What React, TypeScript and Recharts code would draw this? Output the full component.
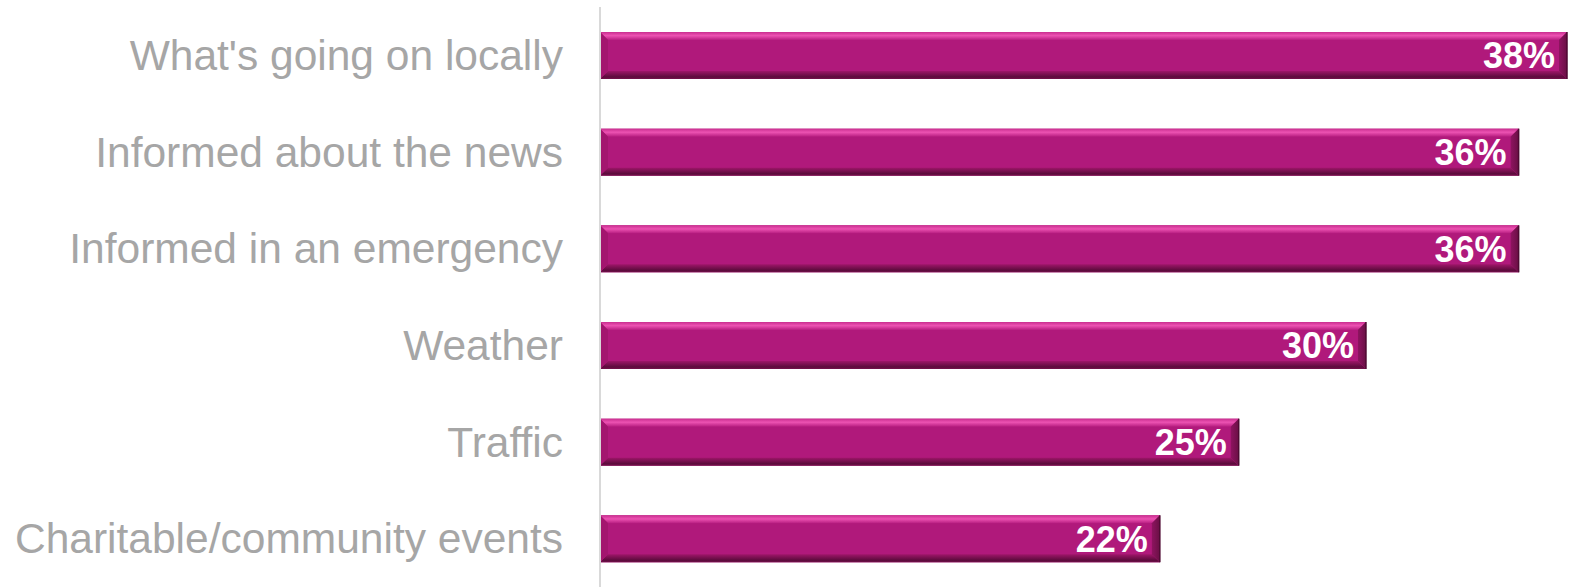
import { BarChart, Bar, XAxis, YAxis, LabelList } from "recharts";

const categories = [
  "What's going on locally",
  "Informed about the news",
  "Informed in an emergency",
  "Weather",
  "Traffic",
  "Charitable/community events",
];
const shares = [38.0, 36.1, 36.1, 30.1, 25.1, 22.0];

const data = categories.map((name, i) => ({ name, value: shares[i] }));

const BEVEL = 8;

function BevelBar(props: any) {
  const { x, y, width, height } = props;
  if (!width || width <= 0) return null;
  const b = Math.min(BEVEL, width / 2, height / 2);
  const x2 = x + width;
  const y2 = y + height;
  return (
    <g>
      <rect x={x} y={y} width={width} height={height} fill="#b0197b" />
      {/* top */}
      <polygon
        points={`${x},${y} ${x2},${y} ${x2 - b},${y + b} ${x + b},${y + b}`}
        fill="url(#bevelTop)"
      />
      {/* bottom */}
      <polygon
        points={`${x},${y2} ${x2},${y2} ${x2 - b},${y2 - b} ${x + b},${y2 - b}`}
        fill="url(#bevelBottom)"
      />
      {/* left */}
      <polygon
        points={`${x},${y} ${x + b},${y + b} ${x + b},${y2 - b} ${x},${y2}`}
        fill="#a3166f"
      />
      {/* right */}
      <polygon
        points={`${x2},${y} ${x2 - b},${y + b} ${x2 - b},${y2 - b} ${x2},${y2}`}
        fill="url(#bevelRight)"
      />
      <line x1={x2} y1={y} x2={x2} y2={y2} stroke="#4e0932" strokeWidth={1.5} />
    </g>
  );
}

function CategoryTick(props: any) {
  const { x, y, payload } = props;
  return (
    <text
      x={x - 29}
      y={y}
      textAnchor="end"
      dominantBaseline="central"
      fill="#a6a6a6"
      fontSize={42.5}
      fontFamily="'Liberation Sans', Arial, sans-serif"
    >
      {payload.value}
    </text>
  );
}

export default function App() {
  return (
    <div style={{ position: "absolute", left: 0, top: 0, background: "#fff" }}>
      <BarChart
        width={1569}
        height={587}
        data={data}
        layout="vertical"
        margin={{ top: 7, right: 2, bottom: 0, left: 0 }}
        barSize={47}
      >
        <defs>
          <linearGradient id="bevelTop" x1="0" y1="0" x2="0" y2="1">
            <stop offset="0%" stopColor="#c92d8f" />
            <stop offset="45%" stopColor="#ec52b2" />
            <stop offset="100%" stopColor="#b81e81" />
          </linearGradient>
          <linearGradient id="bevelBottom" x1="0" y1="0" x2="0" y2="1">
            <stop offset="0%" stopColor="#9e1669" />
            <stop offset="75%" stopColor="#5c0b3c" />
            <stop offset="100%" stopColor="#76114d" />
          </linearGradient>
          <linearGradient id="bevelRight" x1="0" y1="0" x2="1" y2="0">
            <stop offset="0%" stopColor="#8e1460" />
            <stop offset="100%" stopColor="#6a0f45" />
          </linearGradient>
        </defs>
        <XAxis type="number" domain={[0, 38]} hide />
        <YAxis
          type="category"
          dataKey="name"
          width={600}
          axisLine={{ stroke: "#d9d9d9", strokeWidth: 2 }}
          tickLine={false}
          tick={<CategoryTick />}
          interval={0}
        />
        <Bar
          dataKey="value"
          shape={<BevelBar />}
          isAnimationActive={false}
        >
          <LabelList
            dataKey="value"
            position="insideRight"
            offset={12}
            formatter={(v: any) => `${Math.round(Number(v))}%`}
            fill="#ffffff"
            fontSize={36}
            fontWeight="bold"
            fontFamily="'Liberation Sans', Arial, sans-serif"
          />
        </Bar>
      </BarChart>
    </div>
  );
}
